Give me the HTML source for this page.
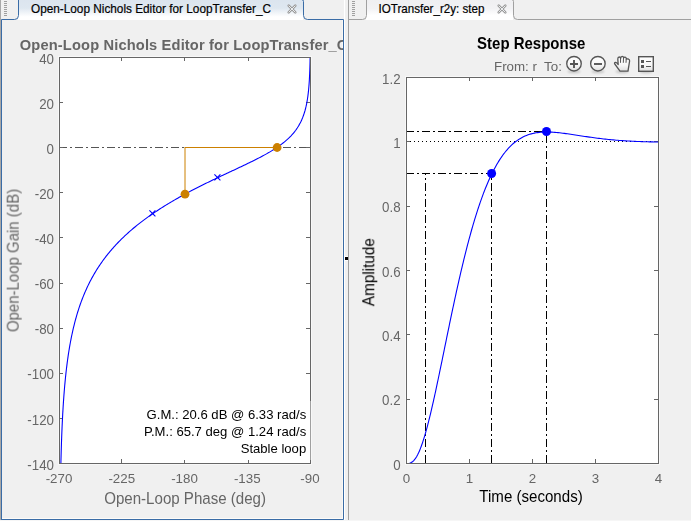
<!DOCTYPE html>
<html><head><meta charset="utf-8"><style>
html,body{margin:0;padding:0;width:691px;height:521px;overflow:hidden;background:#f0f0f0;}
svg{display:block;}
</style></head><body>
<svg width="691" height="521" viewBox="0 0 691 521">
<rect x="0" y="0" width="691" height="521" fill="#f0f0f0"/>
<rect x="0" y="0" width="1" height="520" fill="#a8a8a8"/>
<rect x="4" y="1" width="3" height="1" fill="#a0a0a0"/>
<rect x="352" y="1" width="3" height="1" fill="#a0a0a0"/>
<rect x="4" y="3" width="3" height="1" fill="#a0a0a0"/>
<rect x="352" y="3" width="3" height="1" fill="#a0a0a0"/>
<rect x="4" y="5" width="3" height="1" fill="#a0a0a0"/>
<rect x="352" y="5" width="3" height="1" fill="#a0a0a0"/>
<rect x="4" y="7" width="3" height="1" fill="#a0a0a0"/>
<rect x="352" y="7" width="3" height="1" fill="#a0a0a0"/>
<rect x="4" y="9" width="3" height="1" fill="#a0a0a0"/>
<rect x="352" y="9" width="3" height="1" fill="#a0a0a0"/>
<rect x="4" y="11" width="3" height="1" fill="#a0a0a0"/>
<rect x="352" y="11" width="3" height="1" fill="#a0a0a0"/>
<rect x="4" y="13" width="3" height="1" fill="#a0a0a0"/>
<rect x="352" y="13" width="3" height="1" fill="#a0a0a0"/>
<rect x="4" y="15" width="3" height="1" fill="#a0a0a0"/>
<rect x="352" y="15" width="3" height="1" fill="#a0a0a0"/>
<defs><linearGradient id="tg" x1="0" y1="0" x2="0" y2="1"><stop offset="0" stop-color="#dbe4ee"/><stop offset="0.48" stop-color="#dee7f0"/><stop offset="0.86" stop-color="#ffffff"/><stop offset="1" stop-color="#ffffff"/></linearGradient><linearGradient id="tg2" x1="0" y1="0" x2="0" y2="1"><stop offset="0" stop-color="#eeeef0"/><stop offset="0.5" stop-color="#f2f2f4"/><stop offset="0.8" stop-color="#ffffff"/><stop offset="1" stop-color="#ffffff"/></linearGradient></defs>
<path d="M18,-3 L303,-3 L303,20 L18,20 Z" fill="url(#tg)"/>
<rect x="2" y="20" width="341" height="499" fill="#f0f0f0"/>
<path d="M1.5,521 L1.5,19.5 L14.5,19.5 Q18.5,19.5 18.5,15.5 L18.5,-2" fill="none" stroke="#3a6ca6" stroke-width="1"/>
<path d="M301.5,-0.5 Q303.5,-0.5 303.5,1.5 L303.5,15.5 Q303.5,19.5 307.5,19.5 L343.5,19.5 L343.5,519.5 L1.5,519.5" fill="none" stroke="#3a6ca6" stroke-width="1"/>
<rect x="344" y="0" width="1" height="521" fill="#ffffff"/>
<rect x="342" y="20" width="1" height="498" fill="#fbf8f4"/>
<rect x="344" y="256" width="4" height="5" fill="#ffffff"/><rect x="345" y="257" width="3" height="3" fill="#000000"/>
<rect x="2" y="518" width="341" height="1" fill="#fdfbf8"/>
<rect x="348" y="0" width="1" height="521" fill="#a0a0a0"/>
<path d="M366,-3 L513,-3 L513,20 L366,20 Z" fill="url(#tg2)"/>
<path d="M348.5,20 L348.5,19.5 L362.5,19.5 Q366.5,19.5 366.5,15.5 L366.5,-2" fill="none" stroke="#a0a0a0"/>
<path d="M511.5,-0.5 Q513.5,-0.5 513.5,1.5 L513.5,15.5 Q513.5,19.5 517.5,19.5 L691,19.5" fill="none" stroke="#a0a0a0"/>
<text transform="translate(31,13) scale(1,1.1)" font-family="Liberation Sans, sans-serif" font-size="11.8" fill="#000000" stroke="#000000" stroke-width="0.18">Open-Loop Nichols Editor for LoopTransfer_C</text>
<text transform="translate(378.5,13) scale(1,1.1)" font-family="Liberation Sans, sans-serif" font-size="11.6" fill="#000000" stroke="#000000" stroke-width="0.18">IOTransfer_r2y: step</text>
<g stroke-linecap="round"><path d="M288.7,5.7 L295.3,12.3 M295.3,5.7 L288.7,12.3" stroke="#9a9a9a" stroke-width="2.6"/><path d="M288.9,5.9 L295.1,12.1 M295.1,5.9 L288.9,12.1" stroke="#f4f6f8" stroke-width="0.9"/></g>
<g stroke-linecap="round"><path d="M498.7,5.7 L505.3,12.3 M505.3,5.7 L498.7,12.3" stroke="#9a9a9a" stroke-width="2.6"/><path d="M498.9,5.9 L505.1,12.1 M505.1,5.9 L498.9,12.1" stroke="#f4f6f8" stroke-width="0.9"/></g>
<rect x="58" y="56" width="254" height="409" fill="#f8f8f8"/>
<rect x="59" y="57" width="252" height="407" fill="#ffffff"/>
<path d="M59,147.5 L310,147.5" stroke="#555555" stroke-width="1" stroke-dasharray="8,3,2,3"/>
<path d="M185,147.5 L277,147.5" stroke="#cc8000" stroke-width="1"/>
<path d="M185,147 L185,194" stroke="#cc8000" stroke-width="1"/>
<path d="M59,57.5 L63,57.5 M306,57.5 L310,57.5 M59,102.5 L63,102.5 M306,102.5 L310,102.5 M59,147.5 L63,147.5 M306,147.5 L310,147.5 M59,192.5 L63,192.5 M306,192.5 L310,192.5 M59,237.5 L63,237.5 M306,237.5 L310,237.5 M59,283.5 L63,283.5 M306,283.5 L310,283.5 M59,328.5 L63,328.5 M306,328.5 L310,328.5 M59,373.5 L63,373.5 M306,373.5 L310,373.5 M59,418.5 L63,418.5 M306,418.5 L310,418.5 M59,463.5 L63,463.5 M306,463.5 L310,463.5 M59.5,463 L59.5,459 M59.5,57 L59.5,61 M121.5,463 L121.5,459 M121.5,57 L121.5,61 M184.5,463 L184.5,459 M184.5,57 L184.5,61 M248.5,463 L248.5,459 M248.5,57 L248.5,61 M310.5,463 L310.5,459 M310.5,57 L310.5,61" stroke="#666666" stroke-width="1"/>
<path d="M310.14,57.08 L310.11,58.54 L310.08,60.00 L310.05,61.46 L310.02,62.93 L309.98,64.39 L309.94,65.85 L309.90,67.31 L309.85,68.77 L309.80,70.24 L309.74,71.70 L309.69,73.16 L309.62,74.62 L309.55,76.09 L309.48,77.55 L309.40,79.01 L309.32,80.47 L309.23,81.93 L309.13,83.40 L309.02,84.86 L308.91,86.32 L308.78,87.78 L308.65,89.25 L308.51,90.71 L308.35,92.17 L308.18,93.63 L308.00,95.10 L307.81,96.56 L307.60,98.02 L307.38,99.49 L307.14,100.95 L306.88,102.41 L306.60,103.88 L306.29,105.34 L305.99,106.73 L305.66,108.11 L305.30,109.49 L304.93,110.88 L304.52,112.26 L304.08,113.65 L303.61,115.04 L303.11,116.42 L302.58,117.81 L302.03,119.12 L301.45,120.43 L300.84,121.74 L300.18,123.05 L299.47,124.36 L298.77,125.60 L298.02,126.83 L297.22,128.07 L296.38,129.31 L295.54,130.47 L294.66,131.63 L293.72,132.79 L292.80,133.88 L291.84,134.97 L290.82,136.06 L289.75,137.15 L288.71,138.17 L287.62,139.19 L286.48,140.21 L285.38,141.15 L284.24,142.10 L283.05,143.05 L281.93,143.92 L280.76,144.80 L279.55,145.68 L278.29,146.56 L277.12,147.36 L275.91,148.17 L274.66,148.98 L273.37,149.80 L272.03,150.62 L270.82,151.36 L269.56,152.11 L268.27,152.85 L266.95,153.61 L265.60,154.37 L264.20,155.14 L262.95,155.81 L261.68,156.50 L260.38,157.19 L259.04,157.88 L257.69,158.58 L256.30,159.29 L254.88,160.00 L253.44,160.72 L251.97,161.45 L250.68,162.08 L249.38,162.72 L248.05,163.36 L246.71,164.01 L245.34,164.66 L243.96,165.32 L242.56,165.99 L241.13,166.67 L239.69,167.35 L238.23,168.03 L236.75,168.73 L235.25,169.43 L233.73,170.14 L232.20,170.86 L230.91,171.46 L229.60,172.07 L228.29,172.68 L226.96,173.30 L225.63,173.93 L224.28,174.56 L222.92,175.20 L221.56,175.84 L220.18,176.49 L218.79,177.15 L217.40,177.81 L216.00,178.48 L214.59,179.15 L213.17,179.83 L211.74,180.52 L210.31,181.22 L208.86,181.92 L207.42,182.62 L205.96,183.33 L204.51,184.05 L203.04,184.78 L201.57,185.51 L200.10,186.25 L198.62,187.00 L197.14,187.75 L195.65,188.51 L194.17,189.28 L192.68,190.05 L191.19,190.83 L189.69,191.62 L188.20,192.42 L186.70,193.22 L185.20,194.02 L183.71,194.84 L182.21,195.66 L180.72,196.49 L179.22,197.32 L177.73,198.17 L176.24,199.02 L174.75,199.87 L173.27,200.73 L171.78,201.60 L170.30,202.48 L168.83,203.36 L167.36,204.25 L165.89,205.15 L164.43,206.05 L162.98,206.96 L161.53,207.88 L160.09,208.80 L158.65,209.73 L157.22,210.67 L155.80,211.61 L154.39,212.56 L152.98,213.51 L151.59,214.47 L150.20,215.44 L148.82,216.41 L147.45,217.39 L146.09,218.38 L144.74,219.37 L143.40,220.36 L142.07,221.37 L140.76,222.38 L139.45,223.39 L138.15,224.41 L136.87,225.43 L135.60,226.46 L134.34,227.50 L133.10,228.54 L131.86,229.59 L130.64,230.64 L129.44,231.69 L128.24,232.75 L127.06,233.82 L125.89,234.89 L124.74,235.96 L123.60,237.04 L122.47,238.12 L121.36,239.21 L120.26,240.30 L119.18,241.40 L118.11,242.50 L117.06,243.60 L116.02,244.71 L114.99,245.82 L113.98,246.93 L112.98,248.05 L112.00,249.17 L111.03,250.29 L110.07,251.42 L109.13,252.55 L108.20,253.69 L107.29,254.82 L106.39,255.96 L105.51,257.10 L104.64,258.25 L103.78,259.40 L102.94,260.55 L102.11,261.70 L101.14,263.08 L100.18,264.47 L99.24,265.87 L98.32,267.26 L97.42,268.66 L96.54,270.06 L95.68,271.47 L94.83,272.87 L94.01,274.28 L93.20,275.69 L92.40,277.11 L91.63,278.52 L90.87,279.94 L90.13,281.36 L89.40,282.78 L88.69,284.20 L88.00,285.63 L87.32,287.06 L86.66,288.49 L86.01,289.92 L85.37,291.35 L84.75,292.78 L84.15,294.22 L83.56,295.65 L82.98,297.09 L82.42,298.53 L81.86,299.97 L81.32,301.41 L80.80,302.85 L80.28,304.29 L79.78,305.73 L79.29,307.18 L78.81,308.62 L78.35,310.07 L77.89,311.51 L77.44,312.96 L77.01,314.41 L76.58,315.86 L76.17,317.31 L75.76,318.76 L75.37,320.21 L74.98,321.66 L74.60,323.11 L74.24,324.56 L73.88,326.02 L73.53,327.47 L73.18,328.92 L72.85,330.38 L72.53,331.83 L72.21,333.29 L71.90,334.74 L71.59,336.20 L71.30,337.65 L71.01,339.11 L70.73,340.56 L70.45,342.02 L70.19,343.48 L69.93,344.93 L69.67,346.39 L69.42,347.85 L69.18,349.31 L68.94,350.76 L68.71,352.22 L68.48,353.68 L68.26,355.14 L68.05,356.60 L67.84,358.06 L67.64,359.52 L67.44,360.98 L67.24,362.43 L67.05,363.89 L66.87,365.35 L66.69,366.81 L66.51,368.27 L66.34,369.73 L66.17,371.19 L66.01,372.65 L65.85,374.11 L65.69,375.57 L65.54,377.03 L65.39,378.49 L65.25,379.96 L65.11,381.42 L64.97,382.88 L64.83,384.34 L64.70,385.80 L64.58,387.26 L64.45,388.72 L64.33,390.18 L64.21,391.64 L64.10,393.10 L63.98,394.56 L63.87,396.03 L63.77,397.49 L63.66,398.95 L63.56,400.41 L63.46,401.87 L63.36,403.33 L63.27,404.79 L63.17,406.26 L63.08,407.72 L63.00,409.18 L62.91,410.64 L62.83,412.10 L62.74,413.56 L62.67,415.02 L62.59,416.49 L62.51,417.95 L62.44,419.41 L62.37,420.87 L62.30,422.33 L62.23,423.79 L62.16,425.26 L62.09,426.72 L62.03,428.18 L61.97,429.64 L61.91,431.10 L61.85,432.57 L61.79,434.03 L61.73,435.49 L61.68,436.95 L61.63,438.41 L61.57,439.87 L61.52,441.34 L61.47,442.80 L61.42,444.26 L61.38,445.72 L61.33,447.18 L61.29,448.65 L61.24,450.11 L61.20,451.57 L61.16,453.03 L61.12,454.49 L61.08,455.96 L61.04,457.42 L61.00,458.88 L60.96,460.34 L60.93,461.80 L60.89,463.27 L60.89,463.27" fill="none" stroke="#0000ff" stroke-width="1.1"/>
<path d="M214.4,174.4 L220.4,180.4 M220.4,174.4 L214.4,180.4" stroke="#0000ff" stroke-width="1.1"/>
<path d="M149.4,210.4 L155.4,216.4 M155.4,210.4 L149.4,216.4" stroke="#0000ff" stroke-width="1.1"/>
<circle cx="185" cy="194.2" r="4.4" fill="#cc8000"/>
<circle cx="277.1" cy="147.5" r="4.4" fill="#cc8000"/>
<rect x="59.5" y="57.5" width="251" height="406" fill="none" stroke="#666666" stroke-width="1"/>
<text style="will-change:transform" transform="translate(54,63.67) scale(1,1.04)" font-family="Liberation Sans, sans-serif" font-size="13.33" fill="#666666" text-anchor="end">40</text>
<text style="will-change:transform" transform="translate(54,108.78) scale(1,1.04)" font-family="Liberation Sans, sans-serif" font-size="13.33" fill="#666666" text-anchor="end">20</text>
<text style="will-change:transform" transform="translate(54,153.89) scale(1,1.04)" font-family="Liberation Sans, sans-serif" font-size="13.33" fill="#666666" text-anchor="end">0</text>
<text style="will-change:transform" transform="translate(54,199.00) scale(1,1.04)" font-family="Liberation Sans, sans-serif" font-size="13.33" fill="#666666" text-anchor="end">-20</text>
<text style="will-change:transform" transform="translate(54,244.11) scale(1,1.04)" font-family="Liberation Sans, sans-serif" font-size="13.33" fill="#666666" text-anchor="end">-40</text>
<text style="will-change:transform" transform="translate(54,289.23) scale(1,1.04)" font-family="Liberation Sans, sans-serif" font-size="13.33" fill="#666666" text-anchor="end">-60</text>
<text style="will-change:transform" transform="translate(54,334.34) scale(1,1.04)" font-family="Liberation Sans, sans-serif" font-size="13.33" fill="#666666" text-anchor="end">-80</text>
<text style="will-change:transform" transform="translate(54,379.45) scale(1,1.04)" font-family="Liberation Sans, sans-serif" font-size="13.33" fill="#666666" text-anchor="end">-100</text>
<text style="will-change:transform" transform="translate(54,424.56) scale(1,1.04)" font-family="Liberation Sans, sans-serif" font-size="13.33" fill="#666666" text-anchor="end">-120</text>
<text style="will-change:transform" transform="translate(54,469.67) scale(1,1.04)" font-family="Liberation Sans, sans-serif" font-size="13.33" fill="#666666" text-anchor="end">-140</text>
<text style="will-change:transform" x="59.0" y="483" font-family="Liberation Sans, sans-serif" font-size="13.33" fill="#666666" text-anchor="middle">-270</text>
<text style="will-change:transform" x="121.75" y="483" font-family="Liberation Sans, sans-serif" font-size="13.33" fill="#666666" text-anchor="middle">-225</text>
<text style="will-change:transform" x="184.5" y="483" font-family="Liberation Sans, sans-serif" font-size="13.33" fill="#666666" text-anchor="middle">-180</text>
<text style="will-change:transform" x="247.25" y="483" font-family="Liberation Sans, sans-serif" font-size="13.33" fill="#666666" text-anchor="middle">-135</text>
<text style="will-change:transform" x="310.0" y="483" font-family="Liberation Sans, sans-serif" font-size="13.33" fill="#666666" text-anchor="middle">-90</text>
<text style="will-change:transform" transform="translate(185.1,503.8) scale(1,1.05)" font-family="Liberation Sans, sans-serif" font-size="15.1" fill="#666666" text-anchor="middle">Open-Loop Phase (deg)</text>
<text style="will-change:transform" transform="translate(18.4,260.5) rotate(-90) scale(1,1.05)" font-family="Liberation Sans, sans-serif" font-size="15.0" fill="#666666" text-anchor="middle">Open-Loop Gain (dB)</text>
<clipPath id="lc"><rect x="0" y="20" width="343" height="500"/></clipPath>
<g clip-path="url(#lc)"><text style="will-change:transform" transform="translate(19.8,50.3) scale(1,1.06)" font-family="Liberation Sans, sans-serif" font-size="14.67" font-weight="bold" fill="#666666" letter-spacing="0.14">Open-Loop Nichols Editor for LoopTransfer_C</text></g>
<rect x="140" y="401" width="170" height="59" fill="#ffffff"/><rect x="310" y="401" width="1" height="59" fill="#ffffff" opacity="0.38"/>
<text style="will-change:transform" x="306.2" y="419" font-family="Liberation Sans, sans-serif" font-size="13.1" fill="#000000" text-anchor="end">G.M.: 20.6 dB @ 6.33 rad/s</text>
<text style="will-change:transform" x="306.2" y="435.8" font-family="Liberation Sans, sans-serif" font-size="13.1" fill="#000000" text-anchor="end">P.M.: 65.7 deg @ 1.24 rad/s</text>
<text style="will-change:transform" x="306.2" y="452.8" font-family="Liberation Sans, sans-serif" font-size="13.1" fill="#000000" text-anchor="end">Stable loop</text>
<rect x="405" y="76" width="255" height="389" fill="#f8f8f8"/>
<rect x="406" y="77" width="253" height="387" fill="#ffffff"/>
<path d="M406,131.5 L546,131.5" stroke="#000000" stroke-width="1" stroke-dasharray="8,3,2,3"/>
<path d="M406,173.5 L491,173.5" stroke="#000000" stroke-width="1" stroke-dasharray="8,3,2,3"/>
<path d="M546.5,463 L546.5,131.5" stroke="#000000" stroke-width="1" stroke-dasharray="8,3,2,3"/>
<path d="M491.5,463 L491.5,173.5" stroke="#000000" stroke-width="1" stroke-dasharray="8,3,2,3"/>
<path d="M425.5,463 L425.5,173.5" stroke="#000000" stroke-width="1" stroke-dasharray="8,3,2,3"/>
<path d="M406,141.5 L658,141.5" stroke="#000000" stroke-width="1" stroke-dasharray="1,3"/>
<path d="M406,463.5 L410,463.5 M654,463.5 L658,463.5 M406,399.5 L410,399.5 M654,399.5 L658,399.5 M406,334.5 L410,334.5 M654,334.5 L658,334.5 M406,270.5 L410,270.5 M654,270.5 L658,270.5 M406,206.5 L410,206.5 M654,206.5 L658,206.5 M406,141.5 L410,141.5 M654,141.5 L658,141.5 M406,77.5 L410,77.5 M654,77.5 L658,77.5 M406.5,463 L406.5,459 M406.5,77 L406.5,81 M469.5,463 L469.5,459 M469.5,77 L469.5,81 M532.5,463 L532.5,459 M532.5,77 L532.5,81 M595.5,463 L595.5,459 M595.5,77 L595.5,81 M658.5,463 L658.5,459 M658.5,77 L658.5,81" stroke="#666666" stroke-width="1"/>
<path d="M406.50,463.50 L408.07,463.46 L409.65,463.20 L411.23,462.58 L412.49,461.75 L413.75,460.58 L414.69,459.48 L415.63,458.17 L416.58,456.67 L417.52,454.95 L418.47,453.04 L419.10,451.65 L419.73,450.18 L420.36,448.63 L420.99,446.99 L421.62,445.27 L422.25,443.47 L422.88,441.60 L423.51,439.65 L424.14,437.63 L424.77,435.54 L425.40,433.38 L426.03,431.16 L426.66,428.87 L427.29,426.53 L427.92,424.13 L428.55,421.68 L429.18,419.17 L429.81,416.62 L430.44,414.02 L431.07,411.37 L431.70,408.68 L432.33,405.95 L432.96,403.19 L433.27,401.79 L433.59,400.39 L433.90,398.98 L434.22,397.56 L434.54,396.13 L434.85,394.69 L435.17,393.25 L435.48,391.80 L435.80,390.35 L436.11,388.89 L436.43,387.42 L436.74,385.95 L437.06,384.47 L437.37,382.98 L437.69,381.49 L438.00,380.00 L438.31,378.50 L438.63,377.00 L438.94,375.50 L439.26,373.99 L439.57,372.47 L439.89,370.96 L440.20,369.44 L440.52,367.92 L440.83,366.39 L441.15,364.86 L441.47,363.33 L441.78,361.80 L442.10,360.27 L442.41,358.74 L442.73,357.20 L443.04,355.67 L443.36,354.13 L443.67,352.59 L443.99,351.05 L444.30,349.51 L444.62,347.97 L444.93,346.43 L445.25,344.90 L445.56,343.36 L445.88,341.82 L446.19,340.28 L446.50,338.75 L446.82,337.21 L447.13,335.68 L447.45,334.15 L447.76,332.62 L448.08,331.09 L448.39,329.56 L448.71,328.04 L449.02,326.52 L449.34,325.00 L449.65,323.48 L449.97,321.96 L450.29,320.45 L450.60,318.94 L450.92,317.44 L451.23,315.93 L451.55,314.43 L451.86,312.94 L452.18,311.45 L452.49,309.96 L452.81,308.47 L453.12,306.99 L453.44,305.51 L453.75,304.04 L454.06,302.57 L454.38,301.11 L454.69,299.65 L455.01,298.19 L455.32,296.74 L455.64,295.30 L455.95,293.86 L456.27,292.42 L456.58,290.99 L456.90,289.57 L457.22,288.15 L457.53,286.73 L457.85,285.32 L458.16,283.92 L458.48,282.52 L458.79,281.13 L459.11,279.74 L459.42,278.36 L460.05,275.61 L460.68,272.89 L461.31,270.20 L461.94,267.53 L462.57,264.88 L463.20,262.26 L463.83,259.67 L464.46,257.11 L465.09,254.57 L465.72,252.06 L466.35,249.57 L466.98,247.12 L467.61,244.69 L468.24,242.30 L468.87,239.93 L469.50,237.59 L470.13,235.28 L470.76,233.00 L471.39,230.75 L472.02,228.52 L472.65,226.33 L473.28,224.17 L473.91,222.04 L474.54,219.94 L475.17,217.87 L475.80,215.83 L476.43,213.82 L477.06,211.84 L477.69,209.89 L478.32,207.97 L478.95,206.08 L479.58,204.22 L480.21,202.39 L480.84,200.58 L481.47,198.81 L482.10,197.07 L482.73,195.36 L483.36,193.68 L483.99,192.03 L484.62,190.40 L485.25,188.81 L485.88,187.24 L486.51,185.70 L487.14,184.20 L487.77,182.72 L488.40,181.26 L489.03,179.84 L489.66,178.44 L490.29,177.07 L490.92,175.73 L491.55,174.41 L492.18,173.12 L493.12,171.24 L494.07,169.41 L495.01,167.65 L495.96,165.94 L496.90,164.28 L497.85,162.68 L498.80,161.14 L499.74,159.65 L500.69,158.21 L501.63,156.82 L502.57,155.48 L503.52,154.20 L504.46,152.96 L505.41,151.76 L506.36,150.62 L507.30,149.52 L508.25,148.46 L509.50,147.12 L510.76,145.86 L512.02,144.67 L513.28,143.54 L514.54,142.49 L515.81,141.50 L517.07,140.58 L518.33,139.71 L519.59,138.91 L520.85,138.16 L522.11,137.46 L523.37,136.82 L524.94,136.09 L526.51,135.43 L528.09,134.84 L529.66,134.32 L531.24,133.86 L532.82,133.46 L534.39,133.12 L535.97,132.83 L537.54,132.59 L539.12,132.39 L540.69,132.24 L542.26,132.13 L543.84,132.06 L545.41,132.02 L546.99,132.01 L548.57,132.03 L550.14,132.08 L551.72,132.15 L553.29,132.25 L554.87,132.36 L556.44,132.50 L558.01,132.65 L559.59,132.81 L561.16,132.99 L562.74,133.19 L564.32,133.39 L565.89,133.60 L567.47,133.82 L569.04,134.04 L570.62,134.27 L572.19,134.51 L573.76,134.74 L575.34,134.98 L576.91,135.22 L578.49,135.46 L580.07,135.70 L581.64,135.94 L583.22,136.18 L584.79,136.42 L586.37,136.65 L587.94,136.88 L589.51,137.11 L591.09,137.33 L592.66,137.55 L594.24,137.76 L595.82,137.97 L597.39,138.18 L598.97,138.37 L600.54,138.57 L602.12,138.76 L603.69,138.94 L605.26,139.11 L606.84,139.28 L608.41,139.45 L609.99,139.61 L611.57,139.76 L613.14,139.90 L614.72,140.04 L616.29,140.18 L617.87,140.31 L619.44,140.43 L621.01,140.55 L622.59,140.66 L624.16,140.77 L625.74,140.87 L627.32,140.97 L628.89,141.06 L630.47,141.15 L632.04,141.23 L633.62,141.30 L635.19,141.38 L636.76,141.44 L638.34,141.51 L639.91,141.57 L641.49,141.62 L643.07,141.68 L644.64,141.73 L646.22,141.77 L647.79,141.81 L649.37,141.85 L650.94,141.89 L652.51,141.92 L654.09,141.95 L655.66,141.97 L657.24,142.00 L658.50,142.02" fill="none" stroke="#0000ff" stroke-width="1.1"/>
<circle cx="491.6" cy="173.5" r="4.5" fill="#0000ff"/>
<circle cx="546.5" cy="131.5" r="4.5" fill="#0000ff"/>
<rect x="406.5" y="77.5" width="252" height="386" fill="none" stroke="#666666" stroke-width="1"/>
<text style="will-change:transform" transform="translate(400.6,469.67) scale(1,1.04)" font-family="Liberation Sans, sans-serif" font-size="13.33" fill="#666666" text-anchor="end">0</text>
<text style="will-change:transform" transform="translate(400.6,405.34) scale(1,1.04)" font-family="Liberation Sans, sans-serif" font-size="13.33" fill="#666666" text-anchor="end">0.2</text>
<text style="will-change:transform" transform="translate(400.6,341.00) scale(1,1.04)" font-family="Liberation Sans, sans-serif" font-size="13.33" fill="#666666" text-anchor="end">0.4</text>
<text style="will-change:transform" transform="translate(400.6,276.67) scale(1,1.04)" font-family="Liberation Sans, sans-serif" font-size="13.33" fill="#666666" text-anchor="end">0.6</text>
<text style="will-change:transform" transform="translate(400.6,212.34) scale(1,1.04)" font-family="Liberation Sans, sans-serif" font-size="13.33" fill="#666666" text-anchor="end">0.8</text>
<text style="will-change:transform" transform="translate(400.6,148.00) scale(1,1.04)" font-family="Liberation Sans, sans-serif" font-size="13.33" fill="#666666" text-anchor="end">1</text>
<text style="will-change:transform" transform="translate(400.6,83.67) scale(1,1.04)" font-family="Liberation Sans, sans-serif" font-size="13.33" fill="#666666" text-anchor="end">1.2</text>
<text style="will-change:transform" x="406.5" y="483" font-family="Liberation Sans, sans-serif" font-size="13.33" fill="#666666" text-anchor="middle">0</text>
<text style="will-change:transform" x="469.5" y="483" font-family="Liberation Sans, sans-serif" font-size="13.33" fill="#666666" text-anchor="middle">1</text>
<text style="will-change:transform" x="532.5" y="483" font-family="Liberation Sans, sans-serif" font-size="13.33" fill="#666666" text-anchor="middle">2</text>
<text style="will-change:transform" x="595.5" y="483" font-family="Liberation Sans, sans-serif" font-size="13.33" fill="#666666" text-anchor="middle">3</text>
<text style="will-change:transform" x="658.5" y="483" font-family="Liberation Sans, sans-serif" font-size="13.33" fill="#666666" text-anchor="middle">4</text>
<text style="will-change:transform" transform="translate(531,502) scale(1,1.05)" font-family="Liberation Sans, sans-serif" font-size="15.1" fill="#000000" text-anchor="middle">Time (seconds)</text>
<text style="will-change:transform" transform="translate(374,272.2) rotate(-90) scale(1,1.05)" font-family="Liberation Sans, sans-serif" font-size="15.3" fill="#000000" text-anchor="middle">Amplitude</text>
<text style="will-change:transform" transform="translate(531.2,49.2) scale(1,1.06)" font-family="Liberation Sans, sans-serif" font-size="15" font-weight="bold" fill="#000000" text-anchor="middle">Step Response</text>
<text style="will-change:transform" x="494" y="71" font-family="Liberation Sans, sans-serif" font-size="13.33" fill="#666666" xml:space="preserve">From: r  To:</text>
<defs><linearGradient id="ig" x1="0" y1="0" x2="0" y2="1"><stop offset="0" stop-color="#ffffff"/><stop offset="0.6" stop-color="#f6f6f6"/><stop offset="1" stop-color="#dedede"/></linearGradient><filter id="sh" x="-50%" y="-200%" width="200%" height="500%"><feGaussianBlur stdDeviation="1.3"/></filter></defs>
<ellipse cx="574" cy="71.5" rx="6.5" ry="1.8" fill="#000000" opacity="0.16" filter="url(#sh)"/>
<ellipse cx="598" cy="71.5" rx="6.5" ry="1.8" fill="#000000" opacity="0.16" filter="url(#sh)"/>
<ellipse cx="622" cy="71.5" rx="6.5" ry="1.8" fill="#000000" opacity="0.16" filter="url(#sh)"/>
<ellipse cx="646" cy="71.5" rx="6.5" ry="1.8" fill="#000000" opacity="0.16" filter="url(#sh)"/>
<circle cx="574" cy="63.7" r="7.25" fill="url(#ig)" stroke="#555555" stroke-width="1.35"/>
<path d="M570,64 L578,64 M574,60 L574,68" stroke="#555555" stroke-width="1.9"/>
<circle cx="597.9" cy="63.7" r="7.25" fill="url(#ig)" stroke="#555555" stroke-width="1.35"/>
<path d="M594,64 L602,64" stroke="#555555" stroke-width="1.9"/>
<path d="M620,71.2 L614.8,64 Q614,62.6 615.5,62.3 Q616.5,62.2 617.5,63.6 L618.2,64.6 L617.8,59 Q617.8,57 619.3,57 Q620.5,57 620.6,58.5 Q620.8,56.3 622.2,56.3 Q623.5,56.3 623.6,58 Q624,57 625.1,57.1 Q626.3,57.3 626.3,59 Q626.8,58.6 628.3,59 Q629.8,59.6 629.6,61 L628,71.2 Z" fill="url(#ig)" stroke="#555555" stroke-width="1.3" stroke-linejoin="round"/>
<path d="M620.6,58.5 L620.5,62.8 M623.5,58 L623.3,62.8 M626.2,59 L626,62.8" stroke="#555555" stroke-width="1"/>
<rect x="638.7" y="56.7" width="14.6" height="14.6" fill="url(#ig)" stroke="#555555" stroke-width="1.4"/>
<rect x="641" y="60" width="3" height="3" fill="#555555"/><rect x="641" y="65" width="3" height="3" fill="#555555"/>
<path d="M646,61.5 L651,61.5 M646,66.5 L651,66.5" stroke="#555555" stroke-width="1"/>
<rect x="0" y="520" width="691" height="1" fill="#f6f6f6"/>
</svg>
</body></html>
